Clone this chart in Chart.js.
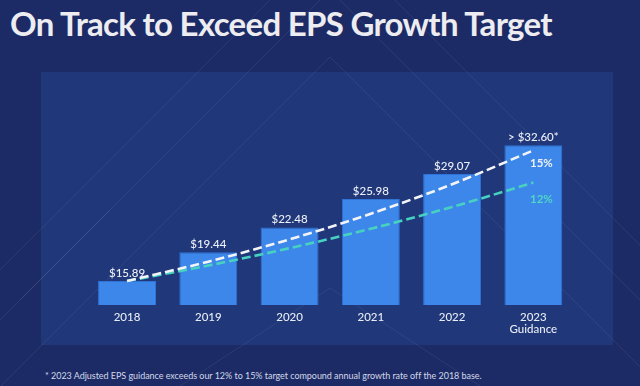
<!DOCTYPE html>
<html>
<head>
<meta charset="utf-8">
<script src="https://cdn.jsdelivr.net/npm/chart.js@4.4.0/dist/chart.umd.min.js"></script>
<style>
  html, body { margin: 0; padding: 0; }
  body { width: 640px; height: 386px; background: #1c2b66; position: relative; overflow: hidden; font-family: Lato, "Open Sans", sans-serif; }
  #panel { position: absolute; left: 41px; top: 72px; width: 572px; height: 273px; background: #20377a; }
  #deco { position: absolute; left: 0; top: 0; }
  #title { position: absolute; left: 10px; top: 3px; margin: 0; font-size: 33px; font-weight: 700; color: #ececf1; white-space: nowrap; }
  #note { position: absolute; left: 45px; top: 370px; font-size: 9px; color: #d3d8e6; white-space: nowrap; }
  #chart { position: absolute; left: 0; top: 0; }
</style>
</head>
<body>
<div id="panel"></div>
<svg id="deco" width="640" height="386">
  <g stroke="#ffffff" stroke-opacity="0.07" stroke-width="1" fill="none">
    <line x1="270" y1="0" x2="-116" y2="386"/>
    <line x1="320" y1="0" x2="-66" y2="386"/>
    <polyline points="0,387 330,57 659,386"/>
    <line x1="340" y1="0" x2="726" y2="386"/>
    <line x1="395" y1="0" x2="781" y2="386"/>
    <polyline points="180,386 330,288 480,386"/>
    <line x1="20" y1="300" x2="110" y2="210"/>
  </g>
</svg>
<h1 id="title">On Track to Exceed EPS Growth Target</h1>
<div id="note">* 2023 Adjusted EPS guidance exceeds our 12% to 15% target compound annual growth rate off the 2018 base.</div>
<canvas id="chart" width="640" height="386"></canvas>
<script>
// chart data
const categories = ['2018', '2019', '2020', '2021', '2022', ['2023', 'Guidance']];
const eps = [15.89, 19.44, 22.48, 25.98, 29.07, 32.60];
const epsLabels = ['$15.89', '$19.44', '$22.48', '$25.98', '$29.07', '> $32.60*'];
const track15 = [15.89, 18.27, 21.01, 24.17, 27.79, 31.96];
const track12 = [15.89, 17.80, 19.93, 22.32, 25.00, 28.00];
const yMin = 12.94, yMax = 34;

// stretch title/footnote to the width they have on the slide
function fitWidth(el, target) {
  const w = el.getBoundingClientRect().width;
  const n = el.textContent.length;
  el.style.letterSpacing = ((target - w) / n).toFixed(2) + 'px';
}
fitWidth(document.getElementById('title'), 542);
fitWidth(document.getElementById('note'), 436);

const labelFont = '500 11.5px Lato, "Open Sans", sans-serif';

const valueLabels = {
  id: 'valueLabels',
  afterDatasetsDraw(chart) {
    const ctx = chart.ctx;
    const bars = chart.getDatasetMeta(0).data;
    ctx.save();
    ctx.font = labelFont;
    ctx.textAlign = 'center';
    ctx.textBaseline = 'middle';
    ctx.fillStyle = '#eef1f7';
    bars.forEach((b, i) => ctx.fillText(epsLabels[i], b.x, b.y - 8));
    // rate tags next to the end of each track line
    const last = bars.length - 1;
    const m15 = chart.getDatasetMeta(1).data[last];
    const m12 = chart.getDatasetMeta(2).data[last];
    ctx.font = '700 11.5px Lato, "Open Sans", sans-serif';
    ctx.fillStyle = '#eef1f7';
    ctx.fillText('15%', m15.x + 8, m15.y + 13);
    ctx.fillStyle = '#4fd6c4';
    ctx.fillText('12%', m12.x + 8, m12.y + 17);
    ctx.restore();
  }
};

new Chart(document.getElementById('chart'), {
  data: {
    labels: categories,
    datasets: [
      {
        type: 'bar', data: eps, order: 2,
        backgroundColor: '#3d87ea', borderColor: '#2f73d6', borderWidth: 1,
        barPercentage: 0.713, categoryPercentage: 1.0
      },
      {
        type: 'line', data: track15, order: 1,
        borderColor: '#f2f4f8', borderWidth: 2.6, borderDash: [9, 4],
        pointRadius: 0, cubicInterpolationMode: 'monotone', fill: false
      },
      {
        type: 'line', data: track12, order: 1,
        borderColor: '#47d1c1', borderWidth: 2.6, borderDash: [9, 4],
        pointRadius: 0, cubicInterpolationMode: 'monotone', fill: false
      }
    ]
  },
  options: {
    animation: false,
    responsive: false,
    layout: { padding: { top: 133.8, bottom: 31, left: 86.4, right: 66 } },
    plugins: { legend: { display: false }, tooltip: { enabled: false } },
    scales: {
      x: {
        grid: { display: false, drawTicks: false },
        border: { display: false },
        ticks: { color: '#e8ecf4', font: { family: 'Lato, "Open Sans", sans-serif', size: 11.5, weight: '500', lineHeight: 1.05 }, padding: 6, maxRotation: 0, autoSkip: false },
        afterFit(scale) { scale.height = 50; }
      },
      y: { display: false, min: yMin, max: yMax }
    }
  },
  plugins: [valueLabels]
});
</script>
</body>
</html>
